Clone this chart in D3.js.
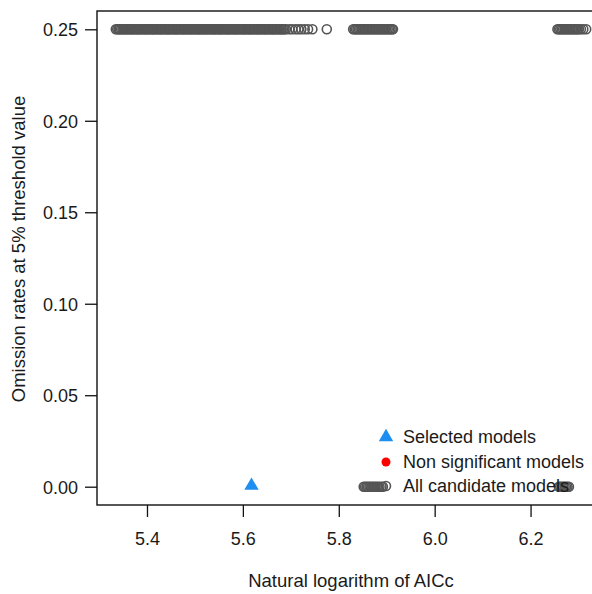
<!DOCTYPE html>
<html>
<head>
<meta charset="utf-8">
<script src="https://cdn.jsdelivr.net/npm/d3@7"></script>
<style>
  body { margin: 0; background: #fff; }
  svg text { font-family: "Liberation Sans", Arial, sans-serif; fill: #1a1a1a; }
</style>
</head>
<body>
<svg id="chart" width="592" height="594"></svg>
<script>
// candidate models with omission rate 0.25 (log AICc values)
var aiccAt025 = [
  5.335, 5.338, 5.341, 5.343, 5.346, 5.349, 5.352, 5.354, 5.357, 5.360, 5.363, 5.366, 5.368, 5.371,
  5.374, 5.377, 5.380, 5.382, 5.385, 5.388, 5.391, 5.394, 5.397, 5.399, 5.402, 5.405, 5.408, 5.411,
  5.413, 5.416, 5.419, 5.422, 5.425, 5.428, 5.430, 5.433, 5.436, 5.439, 5.442, 5.444, 5.447, 5.450,
  5.453, 5.456, 5.459, 5.461, 5.464, 5.467, 5.470, 5.473, 5.476, 5.478, 5.481, 5.484, 5.487, 5.490,
  5.492, 5.495, 5.498, 5.501, 5.504, 5.507, 5.509, 5.512, 5.515, 5.518, 5.521, 5.523, 5.526, 5.529,
  5.532, 5.535, 5.538, 5.540, 5.543, 5.546, 5.549, 5.552, 5.554, 5.557, 5.560, 5.563, 5.566, 5.569,
  5.571, 5.574, 5.577, 5.580, 5.583, 5.585, 5.588, 5.591, 5.594, 5.597, 5.600, 5.602, 5.605, 5.608,
  5.611, 5.614, 5.616, 5.619, 5.622, 5.625, 5.628, 5.631, 5.633, 5.636, 5.639, 5.642, 5.645, 5.647,
  5.650, 5.653, 5.656, 5.659, 5.662, 5.664, 5.667, 5.670, 5.673, 5.676, 5.679, 5.681, 5.684, 5.687,
  5.690, 5.697, 5.703, 5.710, 5.716, 5.722, 5.729, 5.736, 5.745, 5.775,
  5.830, 5.833, 5.836, 5.839, 5.842, 5.845, 5.848, 5.851, 5.854, 5.857, 5.860, 5.863, 5.866, 5.869,
  5.872, 5.875, 5.878, 5.881, 5.884, 5.887, 5.890, 5.893, 5.896, 5.899, 5.902, 5.905, 5.908, 5.911, 5.913,
  6.256, 6.259, 6.262, 6.265, 6.268, 6.271, 6.274, 6.277, 6.280, 6.283, 6.286, 6.289, 6.292, 6.295,
  6.298, 6.301, 6.305, 6.310, 6.316
];
// candidate models with omission rate 0
var aiccAt000 = [
  5.852, 5.855, 5.858, 5.861, 5.864, 5.867, 5.870, 5.873, 5.876, 5.879, 5.882, 5.885, 5.889, 5.892,
  6.259, 6.262, 6.265, 6.268, 6.271, 6.274, 6.277, 6.280
];
var selectedAICc = [5.618];
var selectedOmission = [0];
var nonSignifAICc = [];     // none in this plot
var nonSignifOmission = [];

var xTicks = [5.4, 5.6, 5.8, 6.0, 6.2];
var yTicks = [0, 0.05, 0.10, 0.15, 0.20, 0.25];
var legendLabels = ["Selected models", "Non significant models", "All candidate models"];

var allModels = aiccAt025.map(function (v) { return {x: v, y: 0.25}; })
  .concat(aiccAt000.map(function (v) { return {x: v, y: 0}; }));

var svg = d3.select("#chart");
var margin = {top: 11, left: 97, bottom: 505, right: 605};
var fs = "18px";

// R style 4% padding around the data range
var xExt = d3.extent(allModels, d => d.x);
var xPad = (xExt[1] - xExt[0]) * 0.04;
var x = d3.scaleLinear().domain([xExt[0] - xPad, xExt[1] + xPad]).range([margin.left, margin.right]);
var y = d3.scaleLinear().domain([-0.01, 0.26]).range([margin.bottom, margin.top]);

// frame
svg.append("rect")
  .attr("x", margin.left).attr("y", margin.top)
  .attr("width", margin.right - margin.left).attr("height", margin.bottom - margin.top)
  .attr("fill", "none").attr("stroke", "#111").attr("stroke-width", 1.4);

// axes
var xAxis = svg.append("g")
  .attr("transform", "translate(0," + margin.bottom + ")")
  .call(d3.axisBottom(x).tickValues(xTicks).tickFormat(d3.format(".1f")).tickSize(12).tickPadding(15));
var yAxis = svg.append("g")
  .attr("transform", "translate(" + margin.left + ",0)")
  .call(d3.axisLeft(y).tickValues(yTicks).tickFormat(d3.format(".2f")).tickSize(12).tickPadding(7));
[xAxis, yAxis].forEach(function (g) {
  g.select(".domain").remove();
  g.selectAll("line").attr("stroke", "#111").attr("stroke-width", 1.3);
  g.selectAll("text").style("font-size", fs).style("font-family", "Liberation Sans, Arial, sans-serif").attr("fill", "#1a1a1a");
});
yAxis.selectAll("text").attr("dy", "0.35em");

// axis titles
svg.append("text")
  .attr("x", (margin.left + margin.right) / 2).attr("y", 587)
  .attr("text-anchor", "middle").style("font-size", "18.5px")
  .text("Natural logarithm of AICc");
svg.append("text")
  .attr("transform", "translate(25,249) rotate(-90)")
  .attr("text-anchor", "middle").style("font-size", "18.5px")
  .text("Omission rates at 5% threshold value");

// all candidate models
svg.append("g").selectAll("circle")
  .data(allModels).enter()
  .append("circle")
  .attr("cx", d => x(d.x)).attr("cy", d => y(d.y)).attr("r", 4.5)
  .attr("fill", "none").attr("stroke", "#555").attr("stroke-width", 1.6);

// non significant models
svg.append("g").selectAll("circle")
  .data(nonSignifAICc).enter()
  .append("circle")
  .attr("cx", (d, i) => x(d)).attr("cy", (d, i) => y(nonSignifOmission[i])).attr("r", 4.5)
  .attr("fill", "red");

// selected models
svg.append("g").selectAll("path")
  .data(selectedAICc).enter()
  .append("path")
  .attr("d", d3.symbol().type(d3.symbolTriangle).size(90))
  .attr("transform", (d, i) => "translate(" + x(d) + "," + (y(selectedOmission[i]) - 1) + ")")
  .attr("fill", "#1e8ff0");

// legend
var leg = svg.append("g").attr("transform", "translate(386,437)");
leg.append("path").attr("d", d3.symbol().type(d3.symbolTriangle).size(90)).attr("fill", "#1e8ff0");
leg.append("circle").attr("cy", 25).attr("r", 4.5).attr("fill", "red");
leg.append("circle").attr("cy", 49).attr("r", 4.5).attr("fill", "none").attr("stroke", "#555").attr("stroke-width", 1.6);
leg.selectAll("text").data(legendLabels).enter()
  .append("text")
  .attr("x", 17).attr("y", (d, i) => i * 24.5).attr("dy", "0.35em")
  .style("font-size", fs)
  .text(d => d);
</script>
</body>
</html>
